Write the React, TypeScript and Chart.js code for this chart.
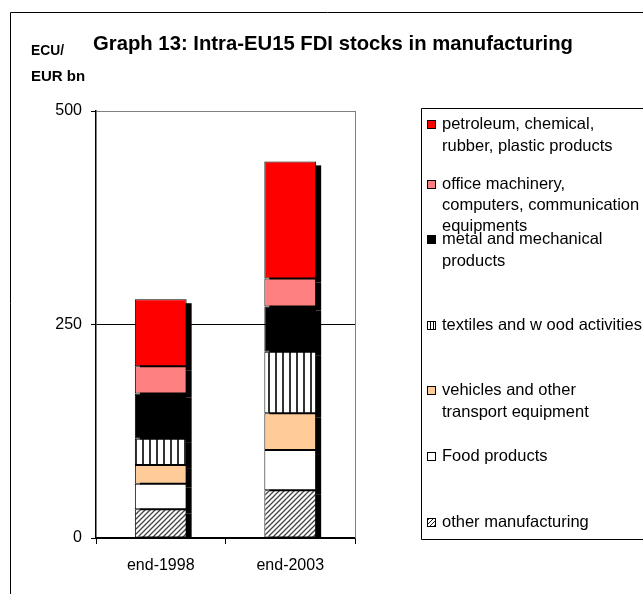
import { useEffect, useRef } from "react";
import { Chart, registerables } from "chart.js";

Chart.register(...registerables);

const FONT = "'Liberation Sans', Arial, sans-serif";

const categories = ["end-1998", "end-2003"];
const seriesNames = [
  "other manufacturing",
  "Food products",
  "vehicles and other transport equipment",
  "textiles and w ood activities",
  "metal and mechanical products",
  "office machinery, computers, communication equipments",
  "petroleum, chemical, rubber, plastic products",
];
const otherManufacturing = [33.6, 56];
const foodProducts = [30, 47];
const vehicles = [22, 43];
const textilesWood = [30.5, 72];
const metalMechanical = [53, 53];
const officeMachinery = [32, 33];
const petroleumChemical = [78.5, 137];
const yTicks = [0, 250, 500];

const titleText = "Graph 13: Intra-EU15 FDI stocks in manufacturing";
const unitLines = ["ECU/", "EUR bn"];

// legend wrapped lines, top to bottom (reverse order of datasets)
const legendLines = [
  ["petroleum, chemical,", "rubber, plastic products"],
  ["office machinery,", "computers, communication", "equipments"],
  ["metal and mechanical", "products"],
  ["textiles and w ood activities"],
  ["vehicles and other", "transport equipment"],
  ["Food products"],
  ["other manufacturing"],
];

function makeHatch(size: number, lw: number, color: string) {
  const c = document.createElement("canvas");
  c.width = size;
  c.height = size;
  const g = c.getContext("2d")!;
  g.fillStyle = "#fff";
  g.fillRect(0, 0, size, size);
  g.strokeStyle = color;
  g.lineWidth = lw;
  g.beginPath();
  g.moveTo(-1, size + 1);
  g.lineTo(size + 1, -1);
  g.moveTo(-1, 1);
  g.lineTo(1, -1);
  g.moveTo(size - 1, size + 1);
  g.lineTo(size + 1, size - 1);
  g.stroke();
  return g.createPattern(c, "repeat")!;
}

function makeStripes(w: number, sw: number, color: string) {
  const c = document.createElement("canvas");
  c.width = w;
  c.height = 4;
  const g = c.getContext("2d")!;
  g.fillStyle = "#fff";
  g.fillRect(0, 0, w, 4);
  g.fillStyle = color;
  g.fillRect(Math.floor((w - sw) / 2), 0, sw, 4);
  return g.createPattern(c, "repeat")!;
}

export default function App() {
  const ref = useRef<HTMLCanvasElement>(null);

  useEffect(() => {
    const canvas = ref.current!;
    const hatch = makeHatch(5, 1.3, "#444");
    const stripes = makeStripes(7, 2, "#333");
    const hatchSmall = makeHatch(4, 1, "#222");
    const stripesSmall = makeStripes(3, 1, "#000");

    const values = [
      otherManufacturing,
      foodProducts,
      vehicles,
      textilesWood,
      metalMechanical,
      officeMachinery,
      petroleumChemical,
    ];
    const fills: any[] = [hatch, "#FFFFFF", "#FFCC99", stripes, "#000000", "#FF8080", "#FF0000"];
    const legendFills: any[] = [hatchSmall, "#FFFFFF", "#FFCC99", stripesSmall, "#000000", "#FF8080", "#FF0000"];

    const shadowPlugin = {
      id: "shadow",
      beforeDatasetsDraw(chart: any) {
        const { ctx, chartArea } = chart;
        ctx.save();
        ctx.beginPath();
        ctx.rect(chartArea.left, chartArea.top - 10, chartArea.right - chartArea.left + 10, chartArea.bottom - chartArea.top + 10);
        ctx.clip();
        ctx.fillStyle = "#000";
        chart.data.datasets.forEach((_d: any, i: number) => {
          const meta = chart.getDatasetMeta(i);
          meta.data.forEach((el: any) => {
            const p = el.getProps(["x", "y", "base", "width"], true);
            ctx.fillRect(p.x - p.width / 2 + 5, p.y + 4, p.width, p.base - p.y);
          });
        });
        ctx.restore();
      },
    };

    const decorPlugin = {
      id: "decor",
      afterDraw(chart: any) {
        const { ctx, chartArea } = chart;
        ctx.save();
        // outer frame
        ctx.strokeStyle = "#000";
        ctx.lineWidth = 1;
        ctx.beginPath();
        ctx.moveTo(10.5, 600);
        ctx.lineTo(10.5, 12.5);
        ctx.lineTo(700, 12.5);
        ctx.stroke();
        // plot right border
        ctx.strokeStyle = "#808080";
        ctx.beginPath();
        ctx.moveTo(Math.round(chartArea.right) + 0.5, chartArea.top);
        ctx.lineTo(Math.round(chartArea.right) + 0.5, chartArea.bottom);
        ctx.stroke();
        // title
        ctx.fillStyle = "#000";
        ctx.textBaseline = "middle";
        ctx.textAlign = "left";
        ctx.font = `bold 20.5px ${FONT}`;
        ctx.fillText(titleText, 93, 44, 480);
        // unit label
        ctx.font = `bold 15px ${FONT}`;
        ctx.fillText(unitLines[0], 31, 51, 33);
        ctx.fillText(unitLines[1], 31, 77, 56);
        // legend box
        ctx.strokeStyle = "#000";
        ctx.beginPath();
        ctx.moveTo(700, 108.5);
        ctx.lineTo(421.5, 108.5);
        ctx.lineTo(421.5, 539.5);
        ctx.lineTo(700, 539.5);
        ctx.stroke();
        const firstY = [124, 184, 239, 325, 390, 456, 522];
        const lh = [22, 21, 22, 22, 22, 22, 22];
        ctx.font = `16.5px ${FONT}`;
        const n = chart.data.datasets.length;
        legendLines.forEach((lines, k) => {
          const di = n - 1 - k;
          const y0 = firstY[k];
          ctx.fillStyle = legendFills[di];
          ctx.fillRect(427, y0 - 4, 9, 9);
          ctx.strokeStyle = "#000";
          ctx.lineWidth = 1;
          ctx.strokeRect(427.5, y0 - 3.5, 8, 8);
          ctx.fillStyle = "#000";
          lines.forEach((t, j) => {
            ctx.fillText(t, 442, y0 + j * lh[k]);
          });
        });
        ctx.restore();
      },
    };

    const chart = new Chart(canvas, {
      type: "bar",
      data: {
        labels: categories,
        datasets: values.map((v, i) => ({
          label: seriesNames[i],
          data: v,
          backgroundColor: fills[i],
          borderColor: "#000",
          borderWidth: 1,
          borderSkipped: false,
          barPercentage: 0.4,
          categoryPercentage: 1,
        })),
      },
      options: {
        responsive: false,
        animation: false,
        events: [],
        layout: { padding: { left: 0, right: 288, top: 111, bottom: 0 } },
        plugins: {
          legend: { display: false },
          title: { display: false },
          tooltip: { enabled: false },
        },
        scales: {
          x: {
            stacked: true,
            grid: {
              display: true,
              drawOnChartArea: false,
              drawTicks: true,
              tickLength: 6,
              color: "#000",
              offset: true,
            },
            border: { display: true, color: "#000", width: 1.5 },
            ticks: { color: "#000", font: { family: FONT, size: 16 }, padding: 12 },
            afterFit: (s: any) => {
              s.height = 56;
            },
          },
          y: {
            stacked: true,
            min: 0,
            max: 500,
            afterBuildTicks: (s: any) => {
              s.ticks = yTicks.map((v) => ({ value: v }));
            },
            grid: {
              color: (c: any) => (c.tick && c.tick.value === 500 ? "#808080" : "#000"),
              tickColor: "#000",
              tickLength: 5,
              drawTicks: true,
            },
            border: { display: true, color: "#000", width: 1.5 },
            ticks: { color: "#000", font: { family: FONT, size: 16 }, padding: 9 },
            afterFit: (s: any) => {
              s.width = 96;
            },
          },
        },
      },
      plugins: [shadowPlugin, decorPlugin],
    });
    return () => chart.destroy();
  }, []);

  return (
    <div style={{ position: "absolute", left: 0, top: 0, width: 643, height: 594, background: "#fff" }}>
      <canvas ref={ref} width={643} height={594} style={{ display: "block" }} />
    </div>
  );
}
